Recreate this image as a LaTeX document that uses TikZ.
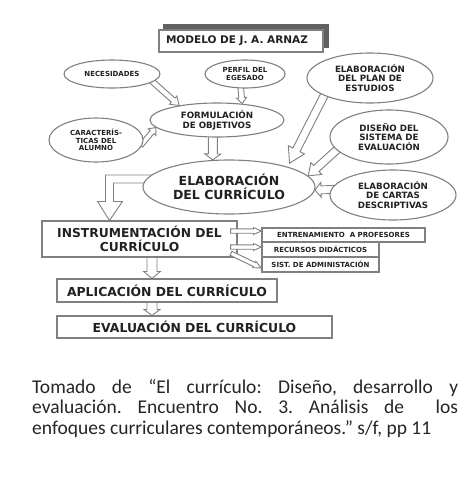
\documentclass[tikz,border=0pt]{standalone}
\usepackage{fontspec}
\setmainfont{DejaVu Sans}
\newfontfamily\capfont{Carlito}
\usetikzlibrary{shapes.geometric,calc}
\pgfdeclarelayer{back}
\pgfdeclarelayer{bg}
\pgfsetlayers{back,bg,main}
\definecolor{ln}{gray}{0.5}
\definecolor{tx}{gray}{0.13}
\definecolor{shd}{gray}{0.38}
\tikzset{
  base/.style={draw=ln, line width=1.1pt, fill=white, text=tx, align=center, inner sep=0pt},
  ell/.style={base, ellipse},
  box/.style={base, rectangle},
  blk/.style={draw=ln, line width=0.9pt, fill=white, line join=miter},
  fsmall/.style={font=\bfseries\fontsize{7}{7.6}\selectfont},
  fmid/.style={font=\bfseries\fontsize{8.7}{9.8}\selectfont},
  fbig/.style={font=\bfseries\fontsize{12.4}{14}\selectfont},
  capt/.style={font=\capfont\frenchspacing\fontsize{19.5}{23}\selectfont, text=black!85, inner sep=0pt, anchor=base west}
}
\newcommand\barrow[5]{%
  \coordinate (bS) at ($(#1)!-4pt!(#2)$);
  \coordinate (bH) at ($(#2)!#5!(#1)$);
  \draw[blk] ($(bS)!#3!90:(#2)$) -- ($(bH)!#3!90:(#2)$) -- ($(bH)!#4!90:(#2)$) -- (#2)
     -- ($(bH)!#4!-90:(#2)$) -- ($(bH)!#3!-90:(#2)$) -- ($(bS)!#3!-90:(#2)$) -- cycle;
}
\begin{document}
\begin{tikzpicture}[x=1pt, y=-1pt]
\begin{pgfonlayer}{back}
\fill[white] (0,0) rectangle (473,480);
\end{pgfonlayer}
\useasboundingbox (0,0) rectangle (473,480);

% title
\node[box, minimum width=164pt, minimum height=22pt, font=\bfseries\fontsize{10.5}{12}\selectfont] (title) at (241,41) {\makebox[150pt][l]{MODELO DE J. A. ARNAZ}};

% ellipses
\node[ell, fsmall, minimum width=96pt, minimum height=28pt] (nec) at (112,74) {NECESIDADES};
\node[ell, fsmall, minimum width=80pt, minimum height=28pt] (perf) at (245,74) {PERFIL DEL\\EGESADO};
\node[ell, fmid, minimum width=126pt, minimum height=50pt] (plan) at (370,78) {ELABORACIÓN\\DEL PLAN DE\\ESTUDIOS};
\node[ell, fmid, minimum width=134pt, minimum height=34pt] (form) at (217,120) {FORMULACIÓN\\DE OBJETIVOS};
\node[ell, fsmall, minimum width=94pt, minimum height=44pt] (car) at (96,140) {CARACTERÍS-\\TICAS DEL\\ALUMNO};
\node[ell, fmid, minimum width=118pt, minimum height=54pt] (dis) at (389,137) {DISEÑO DEL\\SISTEMA DE\\EVALUACIÓN};
\node[ell, font=\bfseries\fontsize{12.5}{14.4}\selectfont, minimum width=172pt, minimum height=54pt] (elab) at (229,187) {ELABORACIÓN\\DEL CURRÍCULO};
\node[ell, fmid, minimum width=126pt, minimum height=50pt] (cart) at (393,195) {ELABORACIÓN\\DE CARTAS\\DESCRIPTIVAS};

% boxes
\node[box, font=\bfseries\fontsize{12.3}{13.4}\selectfont, minimum width=195pt, minimum height=36pt] (inst) at (139.5,239) {INSTRUMENTACIÓN DEL\\CURRÍCULO};
\node[box, fsmall, minimum width=163pt, minimum height=14pt] (ent) at (343.5,235) {ENTRENAMIENTO\ \ A PROFESORES};
\node[box, fsmall, minimum width=117pt, minimum height=15pt] (rec) at (320.5,249.5) {RECURSOS DIDÁCTICOS};
\node[box, fsmall, minimum width=117pt, minimum height=15pt] (sist) at (320.5,264.5) {SIST. DE ADMINISTACIÓN};
\node[box, fbig, minimum width=220pt, minimum height=23pt] (apl) at (167,290.5) {APLICACIÓN DEL CURRÍCULO};
\node[box, fbig, minimum width=275pt, minimum height=22pt] (eva) at (194.5,327) {EVALUACIÓN DEL CURRÍCULO};

\begin{pgfonlayer}{bg}
  \fill[shd] ([shift={(5,-5)}]title.south west) rectangle ([shift={(5,-5)}]title.north east);
  \barrow{nec.-11}{form.159}{2.8pt}{5.5pt}{8pt}
  \barrow{perf.-106}{form.33.5}{2.8pt}{5pt}{6pt}
  \barrow{car.-3}{form.187}{2.5pt}{5pt}{6pt}
  \barrow{form.-103}{elab.121}{4.5pt}{8pt}{6pt}
  \coordinate (t5) at ($(elab.19.5)!4pt!(plan.-159)$);
  \barrow{plan.-159}{t5}{4pt}{9pt}{15pt}
  \barrow{dis.-166}{elab.8}{4pt}{8pt}{11pt}
  \barrow{cart.175}{elab.-2}{4pt}{7.5pt}{6pt}
  % elbow arrow
  \coordinate (et) at ([shift={(-30,0)}]inst.north);
  \draw[blk] ([shift={(15,-12)}]elab.west) -| ($(et)+(-4,-19)$) -- ++(-8,0) -- (et)
     -- ++(13,-19) -- ++(-9,0) |- ([shift={(10,-4)}]elab.west) -- cycle;
  % down arrows
  \coordinate (i4) at ([xshift=12.5pt]inst.south);
  \coordinate (a4) at (i4 |- apl.north);
  \barrow{i4}{a4}{5pt}{8.5pt}{7pt}
  \coordinate (i5) at (i4 |- apl.south);
  \coordinate (a5) at (i4 |- eva.north);
  \barrow{i5}{a5}{5pt}{8pt}{6pt}
\end{pgfonlayer}

% small arrows from instrumentation
\coordinate (i1) at ([shift={(-3,-8)}]inst.east);
\coordinate (e1) at (ent.west |- i1);
\barrow{i1}{e1}{2.2pt}{3.5pt}{8pt}
\coordinate (i2) at ([shift={(-3,8)}]inst.east);
\coordinate (e2) at (rec.west |- i2);
\barrow{i2}{e2}{2.2pt}{3.5pt}{8pt}
\coordinate (i3) at ([shift={(-3,16)}]inst.east);
\coordinate (e3) at ([shift={(0,3.5)}]sist.west);
\barrow{i3}{e3}{2.2pt}{3.5pt}{8pt}

% caption
\node[capt] (c1) at (32,393) {\makebox[426pt][s]{Tomado de “El currículo: Diseño, desarrollo y}};
\node[capt] (c2) at (32,413) {\makebox[426pt][s]{evaluación. Encuentro No. 3. Análisis de\ \ los}};
\node[capt] (c3) at (32,434) {enfoques curriculares contemporáneos.” s/f, pp 11};
\end{tikzpicture}
\end{document}
